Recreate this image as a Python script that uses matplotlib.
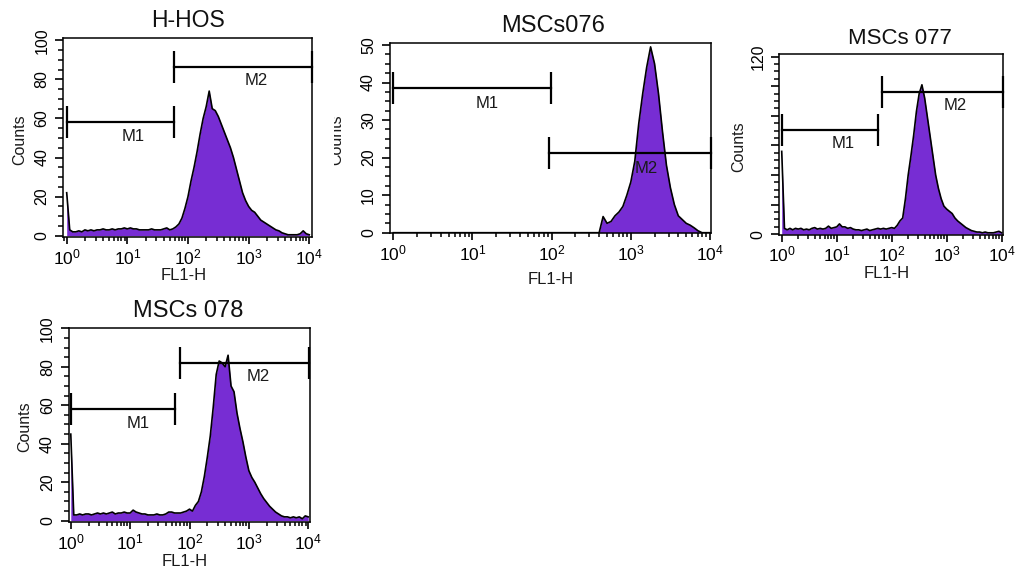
import numpy as np
import matplotlib.pyplot as plt
from matplotlib.ticker import MultipleLocator, LogLocator, NullFormatter, FuncFormatter
from matplotlib.transforms import Bbox

plt.rcParams['font.family'] = ['Liberation Sans', 'DejaVu Sans']
plt.rcParams['mathtext.default'] = 'regular'

W, H = 1015, 571
PURPLE = '#772DD3'

# FL1-H channels in decades (log10), 0.05 decade per bin
chan = np.linspace(0, 4, 81)

# counts per channel
hhos_counts = [
    22, 3, 2, 2, 2.5, 2, 3, 2.5, 3, 2.5,
    3, 3, 3.5, 3, 3, 3.5, 3, 3.5, 3.5, 4,
    3.5, 4, 3.5, 3.5, 3, 3, 3, 3, 3.5, 3,
    3, 3, 3.5, 4, 3, 3.5, 4.5, 6, 9, 14,
    20, 28, 35, 43, 52, 60, 66, 74, 65, 64,
    61, 57, 53, 49, 45, 40, 34, 28, 22, 18,
    15, 13, 12, 10, 8, 7, 6, 5, 4, 3,
    2.5, 1.5, 1, 0.5, 0.5, 0.5, 0.5, 1, 2.5, 1,
    0.5,
]
msc076_counts = [
    0, 0, 0, 0, 0, 0, 0, 0, 0, 0,
    0, 0, 0, 0, 0, 0, 0, 0, 0, 0,
    0, 0, 0, 0, 0, 0, 0, 0, 0, 0,
    0, 0, 0, 0, 0, 0, 0, 0, 0, 0,
    0, 0, 0, 0, 0, 0, 0, 0, 0, 0,
    0, 0, 0, 4.3, 2.5, 3, 4.5, 5.5, 7, 10,
    13.5, 19, 29, 37, 44, 49.5, 45, 37, 27, 18,
    12, 7.5, 4.5, 3.5, 2.5, 2, 1.3, 0.5, 0, 0,
    0,
]
msc077_counts = [
    56, 4, 3, 4, 3, 4, 3.5, 4, 3, 3.5,
    3, 4, 4.5, 3.5, 4, 3.5, 4, 5.5, 4, 4.5,
    5, 7, 5, 5, 4, 4.5, 3.5, 3, 3, 2.5,
    3, 3.5, 2.5, 3, 3.5, 4, 3.5, 4, 3.5, 4,
    4.5, 4, 6, 9, 11, 24, 40, 53, 67, 83,
    95, 101, 92, 79, 66, 53, 40, 31, 24, 19,
    17, 15.5, 14, 11, 9, 7.5, 6, 4.5, 3.5, 2.5,
    2, 1.5, 1.5, 1, 1.5, 1, 1, 1, 1.5, 2,
    1,
]
msc078_counts = [
    45, 3, 3, 3.5, 3, 3.5, 3.5, 3, 3.5, 4,
    3.5, 4, 3.5, 4, 4.5, 3.5, 4, 4, 4.5, 4,
    4, 5.5, 4.5, 4, 3.5, 3.5, 3, 3, 3, 3.5,
    3, 3, 3.5, 4.5, 4.5, 4, 4, 4, 4.5, 5,
    6, 5, 8, 10, 15, 23, 33, 44, 59, 76,
    83, 82, 80, 86, 70, 67, 56, 48, 41, 33,
    26, 22.5, 20, 17, 14, 11.5, 9.5, 7.5, 6, 4.5,
    3.5, 2.5, 2, 2, 1.5, 2, 1.5, 2, 1, 2.5,
    2,
]

titles = ['H-HOS', 'MSCs076', 'MSCs 077', 'MSCs 078']
all_counts = [hhos_counts, msc076_counts, msc077_counts, msc078_counts]

# marker gates (decades) and their heights (counts)
m1_range = [(0, 1.77), (0, 1.99), (0, 1.75), (0, 1.76)]
m1_level = [58.3, 38.5, 70.5, 58]
m2_range = [(1.77, 4.04), (1.97, 4.01), (1.83, 4.03), (1.84, 4.01)]
m2_level = [86.4, 21.2, 95.8, 81.7]
m1_label_at = [(1.09, 51), (1.18, 34.5), (1.12, 61.5), (1.14, 50.6)]
m2_label_at = [(3.13, 79.6), (3.2, 17.2), (3.15, 86.8), (3.16, 74.8)]


def px_rect(l, r, t, b):
    return [l / W, 1 - b / H, (r - l) / W, (b - t) / H]


layout = [
    dict(rect=px_rect(63.3, 312.3, 38.3, 237.3), xlim=(-0.056, 4.05), ylim=(-0.8, 101),
         ymaj=20, ymin=5, title=(188, 27.3, 16.5), ylab=(20, 140), xlab=(184, 280)),
    dict(rect=px_rect(390, 711, 43.3, 233.3), xlim=(-0.042, 4.013), ylim=(-0.16, 50.45),
         ymaj=10, ymin=2.5, title=(553, 31.7, 17), ylab=(337, 140), xlab=(551, 284)),
    dict(rect=px_rect(779.3, 1003.3, 54.3, 235), xlim=(-0.044, 4.03), ylim=(-0.5, 121.6),
         ymaj=20, ymin=5, title=(900, 44.3, 16), ylab=(739, 147), xlab=(887, 278)),
    dict(rect=px_rect(69, 310, 327.7, 522.3), xlim=(-0.03, 4.03), ylim=(-0.83, 100.3),
         ymaj=20, ymin=5, title=(188, 316.7, 17), ylab=(25, 427), xlab=(185, 566)),
]

fig = plt.figure(figsize=(W / 100, H / 100), dpi=100)

for i, lay in enumerate(layout):
    ax = fig.add_axes(lay['rect'])
    x = 10 ** chan
    y = np.array(all_counts[i])
    ax.fill_between(x, y, color=PURPLE, lw=0, zorder=1)
    ax.plot(x, y, color='black', lw=1.2, zorder=2)

    # M1 / M2 gates
    for rng, lev, lab, name in [(m1_range[i], m1_level[i], m1_label_at[i], 'M1'),
                                (m2_range[i], m2_level[i], m2_label_at[i], 'M2')]:
        ax.plot([10 ** rng[0], 10 ** rng[1]], [lev, lev], color='black', lw=1.6,
                marker='|', markersize=23, mew=1.6, zorder=4, clip_on=False)
        ax.text(10 ** lab[0], lab[1], name, ha='center', va='center', fontsize=12,
                color='#1a1a1a', zorder=5)

    ax.set_xscale('log')
    ax.set_xlim(10 ** lay['xlim'][0], 10 ** lay['xlim'][1])
    ax.set_ylim(*lay['ylim'])
    ax.xaxis.set_major_locator(LogLocator(base=10, numticks=10))
    ax.xaxis.set_minor_locator(LogLocator(base=10, subs=np.arange(2, 10), numticks=20))
    ax.xaxis.set_minor_formatter(NullFormatter())
    ax.yaxis.set_major_locator(MultipleLocator(lay['ymaj']))
    ax.yaxis.set_minor_locator(MultipleLocator(lay['ymin']))
    if i == 2:
        ax.yaxis.set_major_formatter(FuncFormatter(
            lambda v, p: '%d' % v if v in (0, 120) else ''))
    else:
        ax.yaxis.set_major_formatter(FuncFormatter(lambda v, p: '%d' % v))

    for s in ax.spines.values():
        s.set_linewidth(1.1)
    ax.tick_params(axis='x', which='major', direction='out', length=5, width=1.2,
                   labelsize=12.5, pad=2)
    ax.tick_params(axis='x', which='minor', direction='out', length=3, width=1.1)
    ax.tick_params(axis='y', which='major', direction='out', length=6, width=1.2,
                   labelsize=11.5, pad=4, labelrotation=90)
    ax.tick_params(axis='y', which='minor', direction='out', length=3.5, width=1.1)
    for lab in ax.get_yticklabels():
        lab.set_va('center')

    tx, ty, tsize = lay['title']
    fig.text(tx / W, 1 - ty / H, titles[i], ha='center', va='baseline',
             fontsize=tsize, color='#111111')
    lx, ly = lay['xlab']
    fig.text(lx / W, 1 - ly / H, 'FL1-H', ha='center', va='baseline',
             fontsize=12, color='#1a1a1a')
    cx, cy = lay['ylab']
    t = fig.text(cx / W, 1 - cy / H, 'Counts', ha='center', va='center', rotation=90,
                 fontsize=11.5, color='#1a1a1a')
    if i == 1:
        # the second panel's y label is cut off on its left side
        t.set_clip_box(Bbox([[334, 0], [400, H]]))
        t.set_clip_on(True)

fig.savefig('out.png', dpi=100)
